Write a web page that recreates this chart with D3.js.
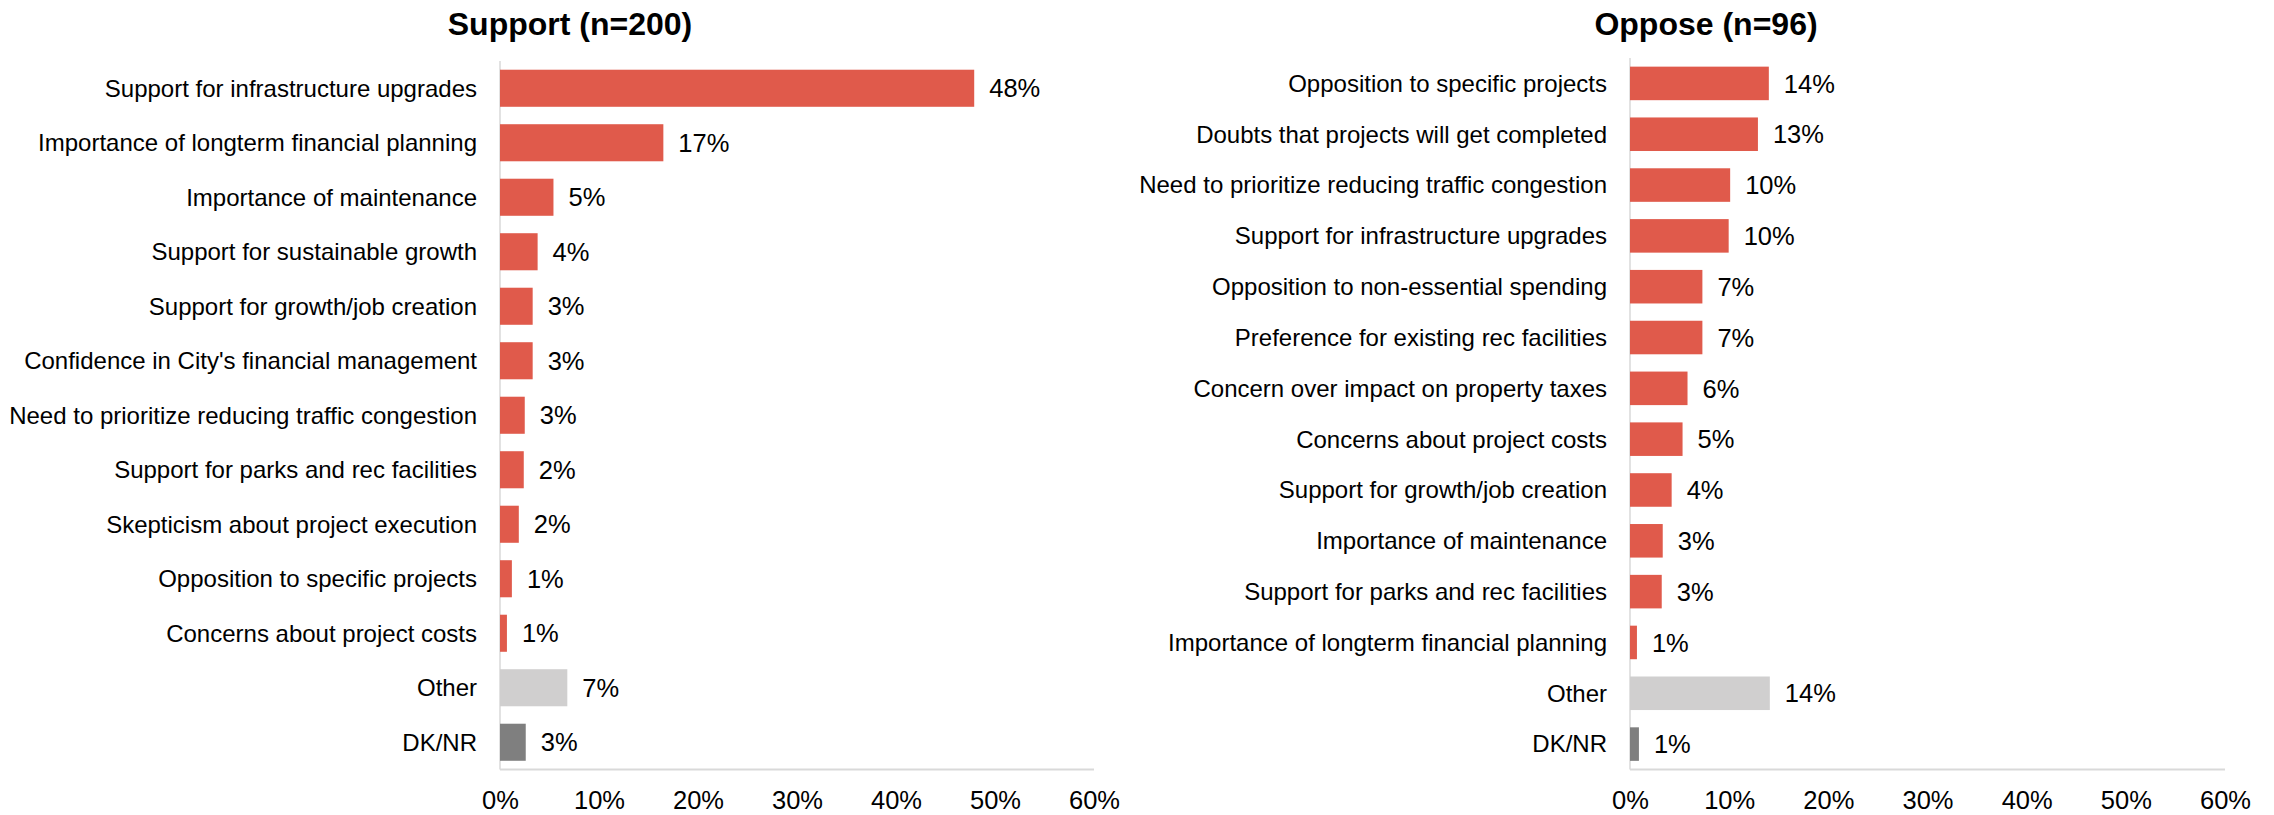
<!DOCTYPE html>
<html>
<head>
<meta charset="utf-8">
<script src="https://cdn.jsdelivr.net/npm/d3@7"></script>
<style>
  html, body { margin: 0; padding: 0; background: #fff; }
  svg { display: block; }
  text { font-family: "Liberation Sans", Arial, sans-serif; fill: #000; }
</style>
</head>
<body>
<svg id="chart" width="2274" height="815"></svg>
<script>
// ---- Data ----
const supportTitle = "Support (n=200)";
const supportCategories = [
  "Support for infrastructure upgrades",
  "Importance of longterm financial planning",
  "Importance of maintenance",
  "Support for sustainable growth",
  "Support for growth/job creation",
  "Confidence in City's financial management",
  "Need to prioritize reducing traffic congestion",
  "Support for parks and rec facilities",
  "Skepticism about project execution",
  "Opposition to specific projects",
  "Concerns about project costs",
  "Other",
  "DK/NR"
];
const supportValues = [47.9, 16.5, 5.4, 3.8, 3.3, 3.3, 2.5, 2.4, 1.9, 1.2, 0.7, 6.8, 2.6];
const supportLabels = ["48%", "17%", "5%", "4%", "3%", "3%", "3%", "2%", "2%", "1%", "1%", "7%", "3%"];

const opposeTitle = "Oppose (n=96)";
const opposeCategories = [
  "Opposition to specific projects",
  "Doubts that projects will get completed",
  "Need to prioritize reducing traffic congestion",
  "Support for infrastructure upgrades",
  "Opposition to non-essential spending",
  "Preference for existing rec facilities",
  "Concern over impact on property taxes",
  "Concerns about project costs",
  "Support for growth/job creation",
  "Importance of maintenance",
  "Support for parks and rec facilities",
  "Importance of longterm financial planning",
  "Other",
  "DK/NR"
];
const opposeValues = [14.0, 12.9, 10.1, 9.95, 7.3, 7.3, 5.8, 5.3, 4.2, 3.3, 3.2, 0.7, 14.1, 0.9];
const opposeLabels = ["14%", "13%", "10%", "10%", "7%", "7%", "6%", "5%", "4%", "3%", "3%", "1%", "14%", "1%"];

const tickValues = [0, 10, 20, 30, 40, 50, 60];
const tickLabels = ["0%", "10%", "20%", "30%", "40%", "50%", "60%"];

// ---- Styles ----
const RED = "#e05a4b", OTHER = "#d0cfcf", DKNR = "#7f7f7f", AXIS = "#d9d9d9";

const svg = d3.select("#chart");

function panel(cfg) {
  const g = svg.append("g");
  const x = d3.scaleLinear().domain([0, 60]).range([cfg.x0, cfg.x1]);
  const y = d3.scaleBand().domain(cfg.categories).range([cfg.y0, cfg.y1])
    .paddingInner(cfg.pad).paddingOuter(cfg.pad / 2);

  // title
  g.append("text")
    .attr("x", cfg.titleX).attr("y", 35)
    .attr("text-anchor", "middle")
    .style("font-size", "32px").style("font-weight", "bold")
    .text(cfg.title);

  // axis lines
  g.append("line")
    .attr("x1", x(0)).attr("x2", x(0))
    .attr("y1", cfg.y0).attr("y2", cfg.y1)
    .attr("stroke", AXIS).attr("stroke-width", 1.5);
  g.append("line")
    .attr("x1", x(0)).attr("x2", x(60))
    .attr("y1", cfg.y1).attr("y2", cfg.y1)
    .attr("stroke", AXIS).attr("stroke-width", 2);

  const colorOf = (c) => c === "Other" ? OTHER : (c === "DK/NR" ? DKNR : RED);

  // bars
  g.selectAll("rect.bar").data(cfg.categories).enter().append("rect")
    .attr("class", "bar")
    .attr("x", x(0))
    .attr("y", d => y(d))
    .attr("width", (d, i) => x(cfg.values[i]) - x(0))
    .attr("height", y.bandwidth())
    .attr("fill", d => colorOf(d));

  // category labels
  g.selectAll("text.cat").data(cfg.categories).enter().append("text")
    .attr("class", "cat")
    .attr("x", x(0) - 23)
    .attr("y", d => y(d) + y.bandwidth() / 2)
    .attr("dy", "0.35em")
    .attr("text-anchor", "end")
    .style("font-size", "24px")
    .text(d => d);

  // value labels
  g.selectAll("text.val").data(cfg.categories).enter().append("text")
    .attr("class", "val")
    .attr("x", (d, i) => x(cfg.values[i]) + 15)
    .attr("y", d => y(d) + y.bandwidth() / 2)
    .attr("dy", "0.36em")
    .style("font-size", "25.5px")
    .text((d, i) => cfg.labels[i]);

  // x tick labels
  const ax = d3.axisBottom(x).tickValues(tickValues)
    .tickFormat((d, i) => tickLabels[i]).tickSize(0).tickPadding(0);
  const axg = g.append("g").attr("transform", `translate(0,${cfg.y1})`).call(ax);
  axg.select(".domain").remove();
  axg.selectAll("text")
    .attr("y", 39).attr("dy", 0)
    .style("font-size", "25.5px")
    .style("font-family", "'Liberation Sans', Arial, sans-serif")
    .attr("fill", "#000");
}

panel({
  title: supportTitle, titleX: 570,
  categories: supportCategories, values: supportValues, labels: supportLabels,
  x0: 500, x1: 1094, y0: 61, y1: 769.5, pad: 0.32
});
panel({
  title: opposeTitle, titleX: 1706,
  categories: opposeCategories, values: opposeValues, labels: opposeLabels,
  x0: 1630, x1: 2225, y0: 58, y1: 769.5, pad: 0.34
});
</script>
</body>
</html>
